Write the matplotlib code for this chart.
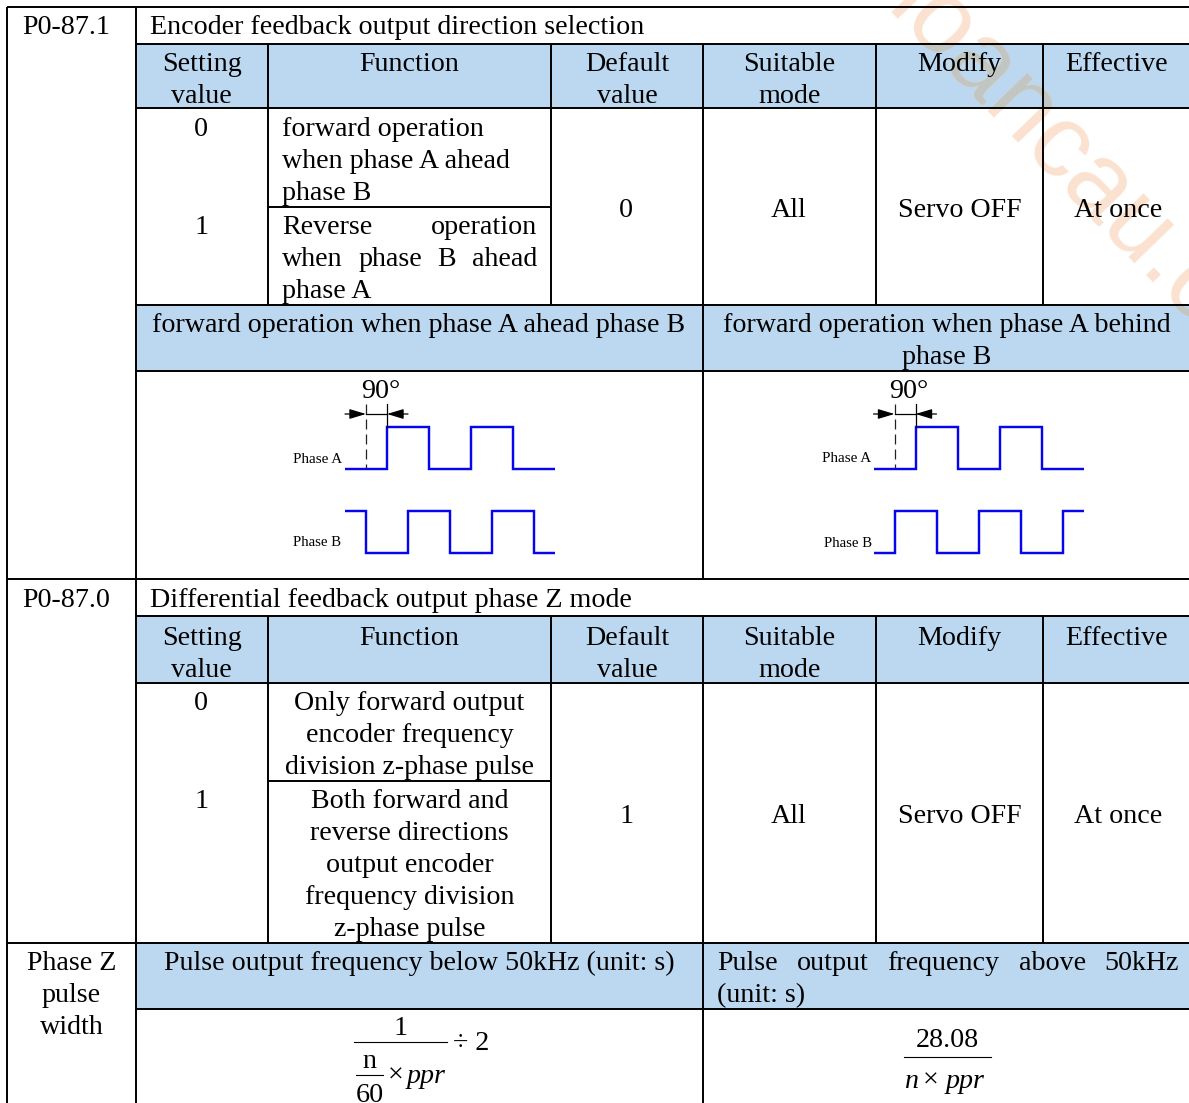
#!/usr/bin/env python3
"""Parameter table P0-87.1 / P0-87.0 with phase diagrams."""

import matplotlib
matplotlib.use("Agg")
import matplotlib.pyplot as plt
from matplotlib.patches import Rectangle

W, H = 1189, 1103
BLUE = "#BBD8F0"
SERIF = "Liberation Serif"
FS = 20.15

header_cols = ["Setting\nvalue", "Function", "Default\nvalue", "Suitable\nmode", "Modify", "Effective"]
param_a = "P0-87.1"
title_a = "Encoder feedback output direction selection"
param_b = "P0-87.0"
title_b = "Differential feedback output phase Z mode"
func_a0 = ["forward operation", "when phase A ahead", "phase B"]
func_a1 = ["Reverse operation", "when phase B ahead", "phase A"]
func_b0 = ["Only forward output", "encoder frequency", "division z-phase pulse"]
func_b1 = ["Both forward and", "reverse directions", "output encoder", "frequency division", "z-phase pulse"]
diagram_left = "forward operation when phase A ahead phase B"
diagram_right = ["forward operation when phase A behind", "phase B"]
pulse_name = ["Phase Z", "pulse", "width"]
pulse_left = "Pulse output frequency below 50kHz (unit: s)"
pulse_right = ["Pulse output frequency above 50kHz", "(unit: s)"]

# wave edges in quarter periods, levels per segment
phase_a_edges = [0, 2, 4, 6, 8, 10]
phase_a_levels = [0, 1, 0, 1, 0]
phase_b_edges = [0, 1, 3, 5, 7, 9, 10]
phase_b_left_levels = [1, 0, 1, 0, 1, 0]
phase_b_right_levels = [0, 1, 0, 1, 0, 1]

fig = plt.figure(figsize=(W / 100, H / 100), dpi=100)
ax = fig.add_axes([0, 0, 1, 1])
ax.set_xlim(0, W)
ax.set_ylim(H, 0)
ax.axis("off")


def put(x, y, s, ha="left", size=FS, style="normal"):
    return ax.text(x, y, s, ha=ha, va="baseline", family=SERIF, fontsize=size,
                   style=style, color="black", zorder=5)


def put_lines(x, y, lines, ha="center"):
    for i, line in enumerate(lines):
        put(x, y + i * 32, line, ha=ha)


def justified(x0, x1, y, s):
    # stretch the gaps so the line fills the cell, as in the original
    words = s.split()
    rend = fig.canvas.get_renderer()
    items = [put(x0, y, w) for w in words]
    widths = [t.get_window_extent(rend).width for t in items]
    gap = (x1 - x0 - sum(widths)) / (len(words) - 1)
    x = x0
    for t, w in zip(items, widths):
        t.set_x(x)
        x += w + gap


def hline(y, x0, x1=W):
    ax.plot([x0, x1], [y, y], color="black", lw=1.4, zorder=4, solid_capstyle="butt")


def vline(x, y0, y1):
    ax.plot([x, x], [y0, y1], color="black", lw=1.4, zorder=4, solid_capstyle="butt")


def header_row(base):
    centers = [201.5, 409.5, 627, 789.5, 959.5, 1116.5]
    for cx, label in zip(centers, header_cols):
        put_lines(cx, base, label.split("\n"))


def wave(x0, y_low, edges, levels):
    # 21 px per quarter period, 42 px between low and high
    xs, ys = [], []
    for i, lev in enumerate(levels):
        y = y_low - 42 * lev
        xs += [x0 + 21 * edges[i], x0 + 21 * edges[i + 1]]
        ys += [y, y]
    ax.plot(xs, ys, color="#0505F0", lw=1.75, zorder=3, solid_joinstyle="miter",
            solid_capstyle="butt")


def arrow(tip, tail):
    ax.annotate("", xy=(tip, 414), xytext=(tail, 414),
                arrowprops=dict(arrowstyle="-|>,head_length=1.0,head_width=0.3",
                                color="black", lw=0.9, shrinkA=0, shrinkB=0))


def diagram(x0, b_levels, dy_a, dy_b, xa, xb, x90):
    wave(x0, 468.7, phase_a_edges, phase_a_levels)
    wave(x0, 552.7, phase_b_edges, b_levels)
    put(xa, 463 + dy_a, "Phase A", size=10.9)
    put(xb, 546 + dy_b, "Phase B", size=10.7)
    put(x90, 398, "90°", ha="center")
    d1, d2 = x0 + 21, x0 + 42
    ax.plot([d1, d1], [404, 468], color="#222222", lw=0.9, ls=(0, (8, 4)), zorder=3)
    ax.plot([d2, d2], [404, 427], color="black", lw=0.9, zorder=3)
    ax.plot([d1, d2], [414, 414], color="black", lw=0.9, zorder=3)
    arrow(d1, x0)
    arrow(d2, d2 + 21)


def watermark(color, clip=None):
    t = ax.text(859, -14, "hoancau.com", family="Liberation Sans", fontsize=75, rotation=-46,
                rotation_mode="anchor", ha="left", va="baseline", color=color, zorder=2)
    if clip is not None:
        t.set_clip_path(clip)
        t.set_clip_on(True)


# shaded rows
rows = [(44, 108), (305, 371), (616, 683), (943, 1009)]
for top, bottom in rows:
    ax.fill_between([136, W], top, bottom, color=BLUE, lw=0, zorder=1)

# watermark runs off the right edge, and looks grey where it crosses the shading
watermark("#FBE1CF")
for top, bottom in rows[:2]:
    band = Rectangle((136, top), W - 136, bottom - top, transform=ax.transData)
    watermark("#C2C6C2", clip=band)

# grid
for y in [7, 579, 943]:
    hline(y, 7)
for y in [44, 108, 305, 371, 616, 683, 1009]:
    hline(y, 136)
hline(207, 268, 551)
hline(781, 268, 551)
vline(7, 7, H)
vline(136, 7, H)
for x in [268, 551, 876, 1043]:
    vline(x, 44, 305)
    vline(x, 616, 943)
vline(703, 44, 579)
vline(703, 616, H)

# first block
put(22, 34, param_a)
put(150, 34, title_a)
header_row(71)
put(201, 136, "0", ha="center")
put_lines(282, 136, func_a0, ha="left")
put(201, 234, "1", ha="center")
justified(282, 537, 234, func_a1[0])
justified(282, 537, 266, func_a1[1])
put(282, 298, func_a1[2])
put(626, 217, "0", ha="center")
put(789, 217, "All", ha="center")
put(959.5, 217, "Servo OFF", ha="center")
put(1118, 217, "At once", ha="center")
put(419, 332, diagram_left, ha="center")
put_lines(947, 332, diagram_right)
diagram(345, phase_b_left_levels, 0, 0, 293, 293, 381)
diagram(873.5, phase_b_right_levels, -1, 1, 822, 824, 909)

# second block
put(22, 607, param_b)
put(150, 607, title_b)
header_row(645)
put(201, 710, "0", ha="center")
put_lines(409.5, 710, func_b0)
put(201, 808, "1", ha="center")
put_lines(409.5, 808, func_b1)
put(626, 823, "1", ha="center")
put(789, 823, "All", ha="center")
put(959.5, 823, "Servo OFF", ha="center")
put(1118, 823, "At once", ha="center")

# pulse width block
put_lines(71.5, 970, pulse_name)
put(419, 970, pulse_left, ha="center")
justified(717, 1179, 970, pulse_right[0])
put(717, 1002, pulse_right[1])

# left formula
put(400, 1035, "1", ha="center")
ax.plot([354, 447], [1042, 1042], color="black", lw=0.8, zorder=5)
put(453, 1050, "÷ 2")
put(369, 1068, "n", ha="center")
ax.plot([356, 383], [1075, 1075], color="black", lw=0.8, zorder=5)
put(388, 1083, "×")
put(407, 1083, "ppr", style="italic")
put(370, 1102, "60", ha="center")

# right formula
put(947, 1047, "28.08", ha="center")
ax.plot([904, 991], [1057, 1057], color="black", lw=0.8, zorder=5)
put(905, 1088, "n", style="italic")
put(923, 1088, "×")
put(946, 1088, "ppr", style="italic")

fig.savefig("out.png", dpi=100)
